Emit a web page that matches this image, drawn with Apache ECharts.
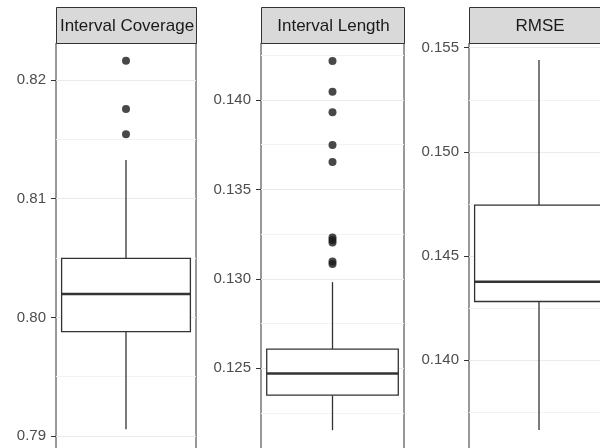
<!DOCTYPE html>
<html>
<head>
<meta charset="utf-8">
<script src="https://cdn.jsdelivr.net/npm/echarts@6/dist/echarts.min.js"></script>
<style>
html,body{margin:0;padding:0;background:#fff;overflow:hidden;width:600px;height:448px;}
#chart{width:620px;height:460px;}
</style>
</head>
<body>
<div id="chart"></div>
<script>
// ---- data ----
const panelTitles = ['Interval Coverage', 'Interval Length', 'RMSE'];
// [lower whisker, Q1, median, Q3, upper whisker]
const coverageBox = [0.79057, 0.79880, 0.80197, 0.80498, 0.81326];
const coverageOutliers = [0.81542, 0.81756, 0.82163];
const lengthBox = [0.12154, 0.12350, 0.12471, 0.12607, 0.12982];
const lengthOutliers = [0.13083, 0.13097, 0.13203, 0.13217, 0.13231, 0.13653, 0.13748, 0.13931, 0.14046, 0.14218];
const rmseBox = [0.13664, 0.14281, 0.14376, 0.14744, 0.15441];
const rmseOutliers = [];
// tick labels
const coverageTicks = [0.79, 0.80, 0.81, 0.82];
const coverageMinor = [0.795, 0.805, 0.815];
const lengthTicks = [0.125, 0.130, 0.135, 0.140];
const lengthMinor = [0.1225, 0.1275, 0.1325, 0.1375, 0.1425];
const rmseTicks = [0.140, 0.145, 0.150, 0.155];
const rmseMinor = [0.1375, 0.1425, 0.1475, 0.1525];

// ---- layout / style ----
const panels = [
  {left: 56, width: 140, min: 0.788913, max: 0.823117, dec: 2, box: coverageBox, out: coverageOutliers, ticks: coverageTicks, minor: coverageMinor},
  {left: 261, width: 143, min: 0.120489, max: 0.143187, dec: 3, box: lengthBox, out: lengthOutliers, ticks: lengthTicks, minor: lengthMinor},
  {left: 469, width: 140, min: 0.135725, max: 0.155226, dec: 3, box: rmseBox, out: rmseOutliers, ticks: rmseTicks, minor: rmseMinor}
];
const PANEL_TOP = 43, PANEL_H = 406, STRIP_TOP = 7, STRIP_H = 36;
const FONT = '"Liberation Sans", Arial, Helvetica, sans-serif';
const INK = '#333333';

const grid = [], xAxis = [], yAxis = [], series = [], graphic = [];
panels.forEach((p, i) => {
  grid.push({left: p.left, top: PANEL_TOP, width: p.width, height: PANEL_H,
    show: true, backgroundColor: '#fff', borderColor: INK, borderWidth: 1, containLabel: false});
  xAxis.push({type: 'category', gridIndex: i, data: [''], show: false});
  // major axis
  yAxis.push({type: 'value', gridIndex: i, min: p.min, max: p.max, position: 'left',
    axisLine: {show: false},
    axisTick: {show: true, length: 5, lineStyle: {color: INK, width: 1}, customValues: p.ticks},
    axisLabel: {show: true, customValues: p.ticks, margin: 10, color: '#4d4d4d', fontSize: 15, fontFamily: FONT,
      formatter: v => Number(v).toFixed(p.dec)},
    splitLine: {show: true, lineStyle: {color: '#ebebeb', width: 1}}
  });
  // minor grid axis
  yAxis.push({type: 'value', gridIndex: i, min: p.min, max: p.max, position: 'left',
    axisLine: {show: false},
    axisTick: {show: false, customValues: p.minor},
    axisLabel: {show: false, customValues: p.minor},
    splitLine: {show: true, lineStyle: {color: '#f3f3f3', width: 1}}
  });
  const yi = i * 2;
  series.push({
    type: 'custom', xAxisIndex: i, yAxisIndex: yi, z: 3,
    data: [[0].concat(p.box)],
    renderItem: function (params, api) {
      const pMin = api.coord([0, api.value(1)]);
      const pQ1 = api.coord([0, api.value(2)]);
      const pMed = api.coord([0, api.value(3)]);
      const pQ3 = api.coord([0, api.value(4)]);
      const pMax = api.coord([0, api.value(5)]);
      const cx = pMed[0];
      const hw = api.size([1, 0])[0] * 0.46;
      const ls = {stroke: INK, lineWidth: 1.3, fill: null};
      return {type: 'group', children: [
        {type: 'line', shape: {x1: cx, y1: pMax[1], x2: cx, y2: pQ3[1]}, style: ls},
        {type: 'line', shape: {x1: cx, y1: pQ1[1], x2: cx, y2: pMin[1]}, style: ls},
        {type: 'rect', shape: {x: cx - hw, y: pQ3[1], width: hw * 2, height: pQ1[1] - pQ3[1]},
          style: {stroke: INK, lineWidth: 1.3, fill: '#fff'}},
        {type: 'line', shape: {x1: cx - hw, y1: pMed[1], x2: cx + hw, y2: pMed[1]},
          style: {stroke: INK, lineWidth: 2.6}}
      ]};
    }
  });
  series.push({
    type: 'scatter', xAxisIndex: i, yAxisIndex: yi, z: 4,
    symbol: 'circle', symbolSize: 8,
    itemStyle: {color: '#1a1a1a'},
    data: p.out.map(v => [0, v])
  });
  graphic.push({
    type: 'group', children: [
      {type: 'rect', shape: {x: p.left + 0.5, y: STRIP_TOP + 0.5, width: p.width, height: STRIP_H},
        style: {fill: '#d9d9d9', stroke: INK, lineWidth: 1}, z: 10},
      {type: 'text', x: p.left + p.width / 2 + 1, y: STRIP_TOP + STRIP_H / 2 + 1, z: 11,
        style: {text: panelTitles[i], fill: '#1a1a1a', font: '17px ' + FONT,
          align: 'center', verticalAlign: 'middle', textAlign: 'center', textVerticalAlign: 'middle'}}
    ]
  });
});

const chart = echarts.init(document.getElementById('chart'), null, {renderer: 'canvas'});
chart.setOption({
  animation: false,
  backgroundColor: '#fff',
  grid, xAxis, yAxis, series, graphic
});
</script>
</body>
</html>
